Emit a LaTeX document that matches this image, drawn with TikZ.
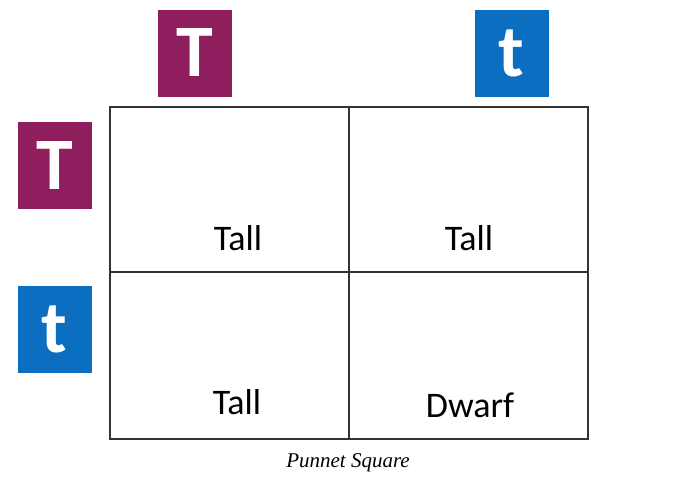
\documentclass[tikz,border=0pt]{standalone}
\usepackage{fontspec}
\setmainfont{Carlito}
\newfontfamily\capfont{Liberation Serif}
\definecolor{domcol}{HTML}{8E1E5E}
\definecolor{reccol}{HTML}{0B6EC1}
\definecolor{gridcol}{HTML}{333333}
\begin{document}
\begin{tikzpicture}[x=1pt,y=-1pt,
  allelebox/.style={minimum width=74pt,minimum height=87pt,inner sep=0pt,text=white,font=\fontsize{74}{74}\selectfont\bfseries},
  celltext/.style={anchor=base,inner sep=0pt,font=\fontsize{36}{36}\selectfont},
  gridline/.style={draw=gridcol,line width=1.4pt}]
\useasboundingbox (0,0) rectangle (698,480);
\node[allelebox,fill=domcol] (topT) at (195,53) {T};
\node[allelebox,fill=reccol] (topt) at (511.5,53.5) {t};
\node[allelebox,fill=domcol] (leftT) at (54.5,165.5) {T};
\node[allelebox,fill=reccol] (leftt) at (54.5,329) {t};
\coordinate (g00) at (110,107);
\coordinate (g11) at (588,439);
\coordinate (vtop) at (349,107);
\coordinate (vbot) at (349,439);
\coordinate (hl) at (110,272);
\coordinate (hr) at (588,272);
\draw[gridline] (g00) rectangle (g11);
\draw[gridline] (vtop) -- (vbot);
\draw[gridline] (hl) -- (hr);
\node[celltext] (c1) at (238,250) {Tall};
\node[celltext] (c2) at (469,250) {Tall};
\node[celltext] (c3) at (237,414) {Tall};
\node[celltext] (c4) at (470,417) {Dwarf};
\node[anchor=base,inner sep=0pt,font=\capfont\itshape\fontsize{21}{21}\selectfont] (cap) at (348,467) {Punnet Square};
\end{tikzpicture}
\end{document}
